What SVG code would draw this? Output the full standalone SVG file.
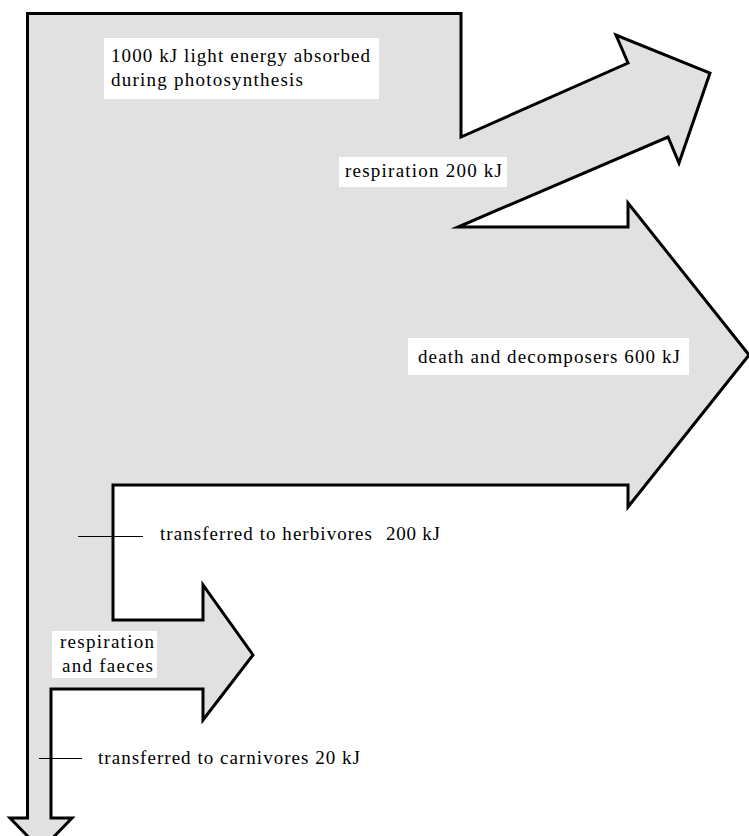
<svg xmlns="http://www.w3.org/2000/svg" width="749" height="836" viewBox="0 0 749 836">
<style>
.flow{fill:#e1e1e1;stroke:#000;stroke-width:3;stroke-linejoin:miter;stroke-miterlimit:10}
.box{fill:#fff;stroke:none}
.tick{stroke:#000;stroke-width:1;fill:none}
text{font-family:"Liberation Serif","Times New Roman",serif;font-size:19px;fill:#000}
</style>
<g id="energy-flow">
<path class="flow" d="M27.5,13.5 L461,13.5 L461,137 L628,63 L616,35 L710,73 L679,163 L668,137 L458,227 L628,227 L628,203 L749,355 L628,507 L628,485 L113,485 L113,620 L203,620 L203,585 L253,655 L203,720 L203,689 L51,689 L51,818 L72,818 L41,850 L10,818 L27.5,818 Z"/>
</g>
<g id="connectors">
<line class="tick" x1="78" y1="536.5" x2="143" y2="536.5"/>
<line class="tick" x1="39" y1="758.5" x2="82" y2="758.5"/>
</g>
<g id="label-absorbed">
<rect class="box" x="104" y="38" width="275" height="61"/>
<text x="111" y="62" textLength="259" lengthAdjust="spacing">1000 kJ light energy absorbed</text>
<text x="111" y="86" textLength="192" lengthAdjust="spacing">during photosynthesis</text>
</g>
<g id="label-respiration">
<rect class="box" x="339" y="157" width="168" height="30"/>
<text x="345" y="177" textLength="157" lengthAdjust="spacing">respiration 200 kJ</text>
</g>
<g id="label-death">
<rect class="box" x="408" y="338" width="281" height="37"/>
<text x="418" y="363" textLength="262" lengthAdjust="spacing">death and decomposers 600 kJ</text>
</g>
<g id="label-herbivores">
<text x="160" y="540" textLength="212" lengthAdjust="spacing">transferred to herbivores</text>
<text x="386" y="540" textLength="54" lengthAdjust="spacing">200 kJ</text>
</g>
<g id="label-faeces">
<rect class="box" x="52" y="631" width="105" height="47"/>
<text x="60" y="648" textLength="94" lengthAdjust="spacing">respiration</text>
<text x="62" y="672" textLength="91" lengthAdjust="spacing">and faeces</text>
</g>
<g id="label-carnivores">
<text x="98" y="764" textLength="262" lengthAdjust="spacing">transferred to carnivores 20 kJ</text>
</g>
</svg>
